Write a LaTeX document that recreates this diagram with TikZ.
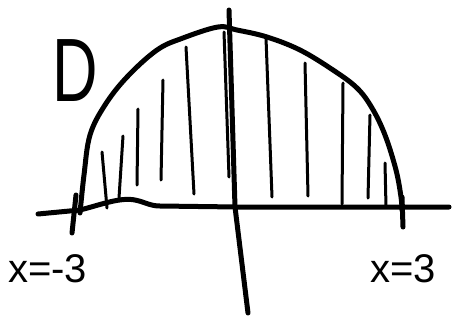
\documentclass[tikz,border=0pt]{standalone}
\usepackage{fontspec}
\setmainfont{Liberation Sans}
\begin{document}
\begin{tikzpicture}[x=1pt,y=-1pt,
  pen/.style={line width=5pt,line cap=round,line join=round},
  hatch/.style={line width=3pt,line cap=round},
  lbl/.style={font=\fontsize{40}{40}\selectfont,inner sep=0pt,xscale=1.0}]
\useasboundingbox (0,0) rectangle (452,322);
% horizontal axis
\draw[pen] (38,214) -- (80,210) .. controls (100,205) and (120,197) .. (135,200)
  .. controls (145,202) and (150,206) .. (160,206) -- (237,207) -- (449,207);
% vertical axis
\draw[pen] (229,10) -- (235,207) -- (248,313);
% arc
\draw[pen] plot[smooth,tension=0.6] coordinates {(80,213) (84,175) (90,135) (105,105) (127,77)
  (157,50) (183,38) (218,27) (237,30) (267,37) (300,50) (333,70) (357,88) (372,108)
  (385,135) (396,170) (401,197) (402,210)};
% ticks
\draw[pen] (76,195) -- (72,233);
\draw[pen] (402,197) -- (403,227);
% hatching
\draw[hatch] (102,152) -- (107,208);
\draw[hatch] (123,136) -- (119,198);
\draw[hatch] (138,109) -- (137,185);
\draw[hatch] (163,80) -- (161,180);
\draw[hatch] (186,47) -- (194,194);
\draw[hatch] (224,32) -- (229,177);
\draw[hatch] (266,38) -- (272,197);
\draw[hatch] (305,63) -- (308,196);
\draw[hatch] (343,83) -- (342,204);
\draw[hatch] (370,115) -- (368,198);
\draw[hatch] (385,163) -- (386,207);
% labels
\node[font=\fontsize{90}{90}\selectfont,inner sep=0pt,xscale=0.7] (D) at (75,71) {D};
\node[lbl,anchor=west] (xl) at (8,269) {x=-3};
\node[lbl,anchor=west] (xr) at (370,269) {x=3};
\end{tikzpicture}
\end{document}
